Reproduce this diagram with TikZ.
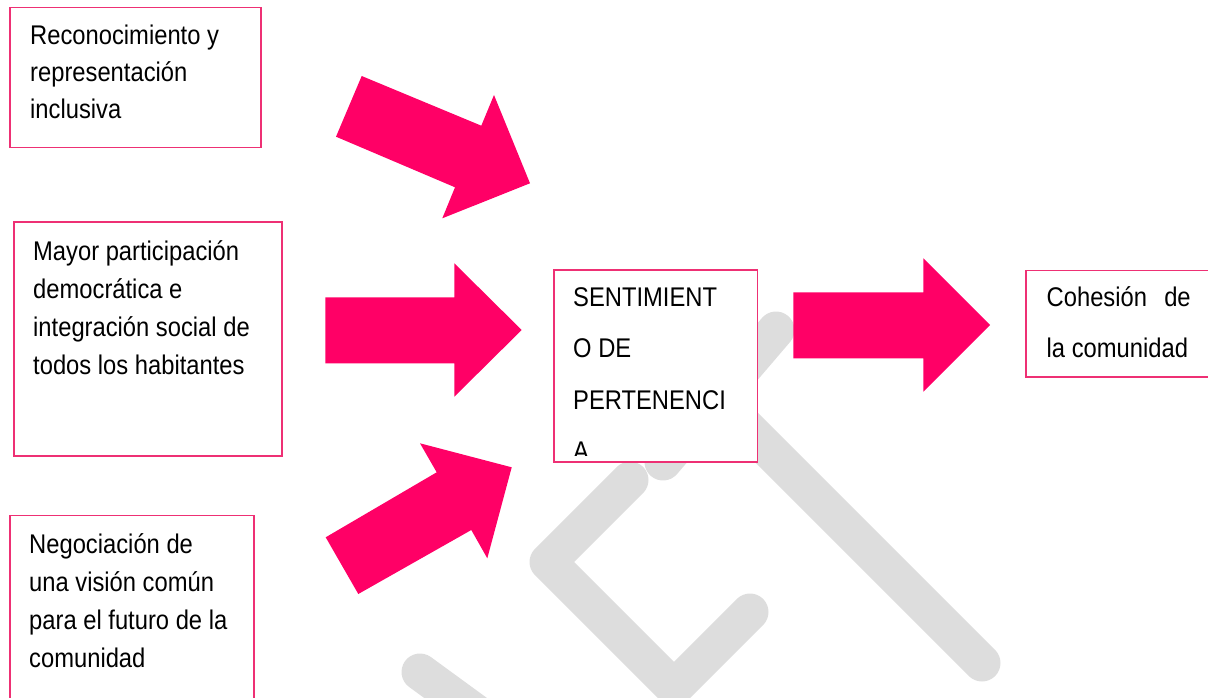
\documentclass[tikz,border=0pt]{standalone}
\usepackage{fontspec}
\setmainfont{Liberation Sans}[FakeStretch=0.88]
\definecolor{arrpink}{RGB}{255,0,102}
\definecolor{boxpink}{RGB}{238,48,116}
\definecolor{wmgray}{RGB}{221,221,221}
\newcommand{\boxlines}[3]{\parbox[t]{#1}{\fontsize{27pt}{#2}\selectfont #3}}
\begin{document}
\begin{tikzpicture}[x=1pt,y=-1pt,
  box/.style={draw=boxpink, line width=1.5pt, fill=white, inner sep=0pt, anchor=north west},
  txt/.style={inner sep=0pt, anchor=base west, text=black},
  arr/.style={fill=arrpink},
  wm/.style={draw=wmgray, line width=37pt, line cap=round, line join=round}]
\useasboundingbox (0,0) rectangle (1208,698);
\clip (0,0) rectangle (1208,698);
% watermark
\draw[wm] (776,330) -- (663,462);
\draw[wm] (720,401) -- (982,663);
\draw[wm] (630,480) -- (548,562) -- (674,688) -- (750,612);
\draw[wm] (420,672) -- (520,745);
% arrows
\fill[arr] (361.7,76) -- (481.3,125.7) -- (494,95) -- (530,183.3) -- (442.3,218.3) -- (455,187.3) -- (336,136.7) -- cycle;
\fill[arr] (325.3,297.3) -- (454.3,297.3) -- (454.3,263.3) -- (521.7,330) -- (454.3,396.7) -- (454.3,363.3) -- (325.3,363.3) -- cycle;
\fill[arr] (325.7,537.3) -- (436.7,472.3) -- (420,443.3) -- (511.7,467.3) -- (487.3,558.3) -- (471.3,530) -- (358.3,594) -- cycle;
\fill[arr] (793.3,292.3) -- (923.3,292.3) -- (923.3,258.3) -- (990,325) -- (923.3,391.7) -- (923.3,358.3) -- (793.3,358.3) -- cycle;
% boxes
\node[box, minimum width=251pt, minimum height=140pt] (b1) at (9,7) {};
\node[box, minimum width=268pt, minimum height=234pt] (b2) at (13,221) {};
\node[box, minimum width=244pt, minimum height=220pt] (b3) at (9,514.5) {};
\node[box, minimum width=203.5pt, minimum height=192pt] (bc) at (553,269) {};
\node[box, minimum width=220pt, minimum height=106.5pt] (br) at (1025,269.5) {};
% texts
\node[txt] (t1) at (30,44.5) {\boxlines{240pt}{37pt}{Reconocimiento y\\representación\\inclusiva}};
\node[txt] (t2) at (33,260) {\boxlines{245pt}{38.3pt}{Mayor participación\\democrática e\\integración social de\\todos los habitantes}};
\node[txt] (t3) at (29,553) {\boxlines{222pt}{38.3pt}{Negociación de\\una visión común\\para el futuro de la\\comunidad}};
\begin{scope}
\clip (553,269) rectangle (757,455);
\node[txt] (tc) at (573,306.5) {\boxlines{180pt}{51.3pt}{SENTIMIENT\\O DE\\PERTENENCI\\A}};
\end{scope}
\node[txt] (tr) at (1046.5,306.5) {\boxlines{144pt}{50.5pt}{Cohesión\hfill de\\la comunidad}};
\end{tikzpicture}
\end{document}
